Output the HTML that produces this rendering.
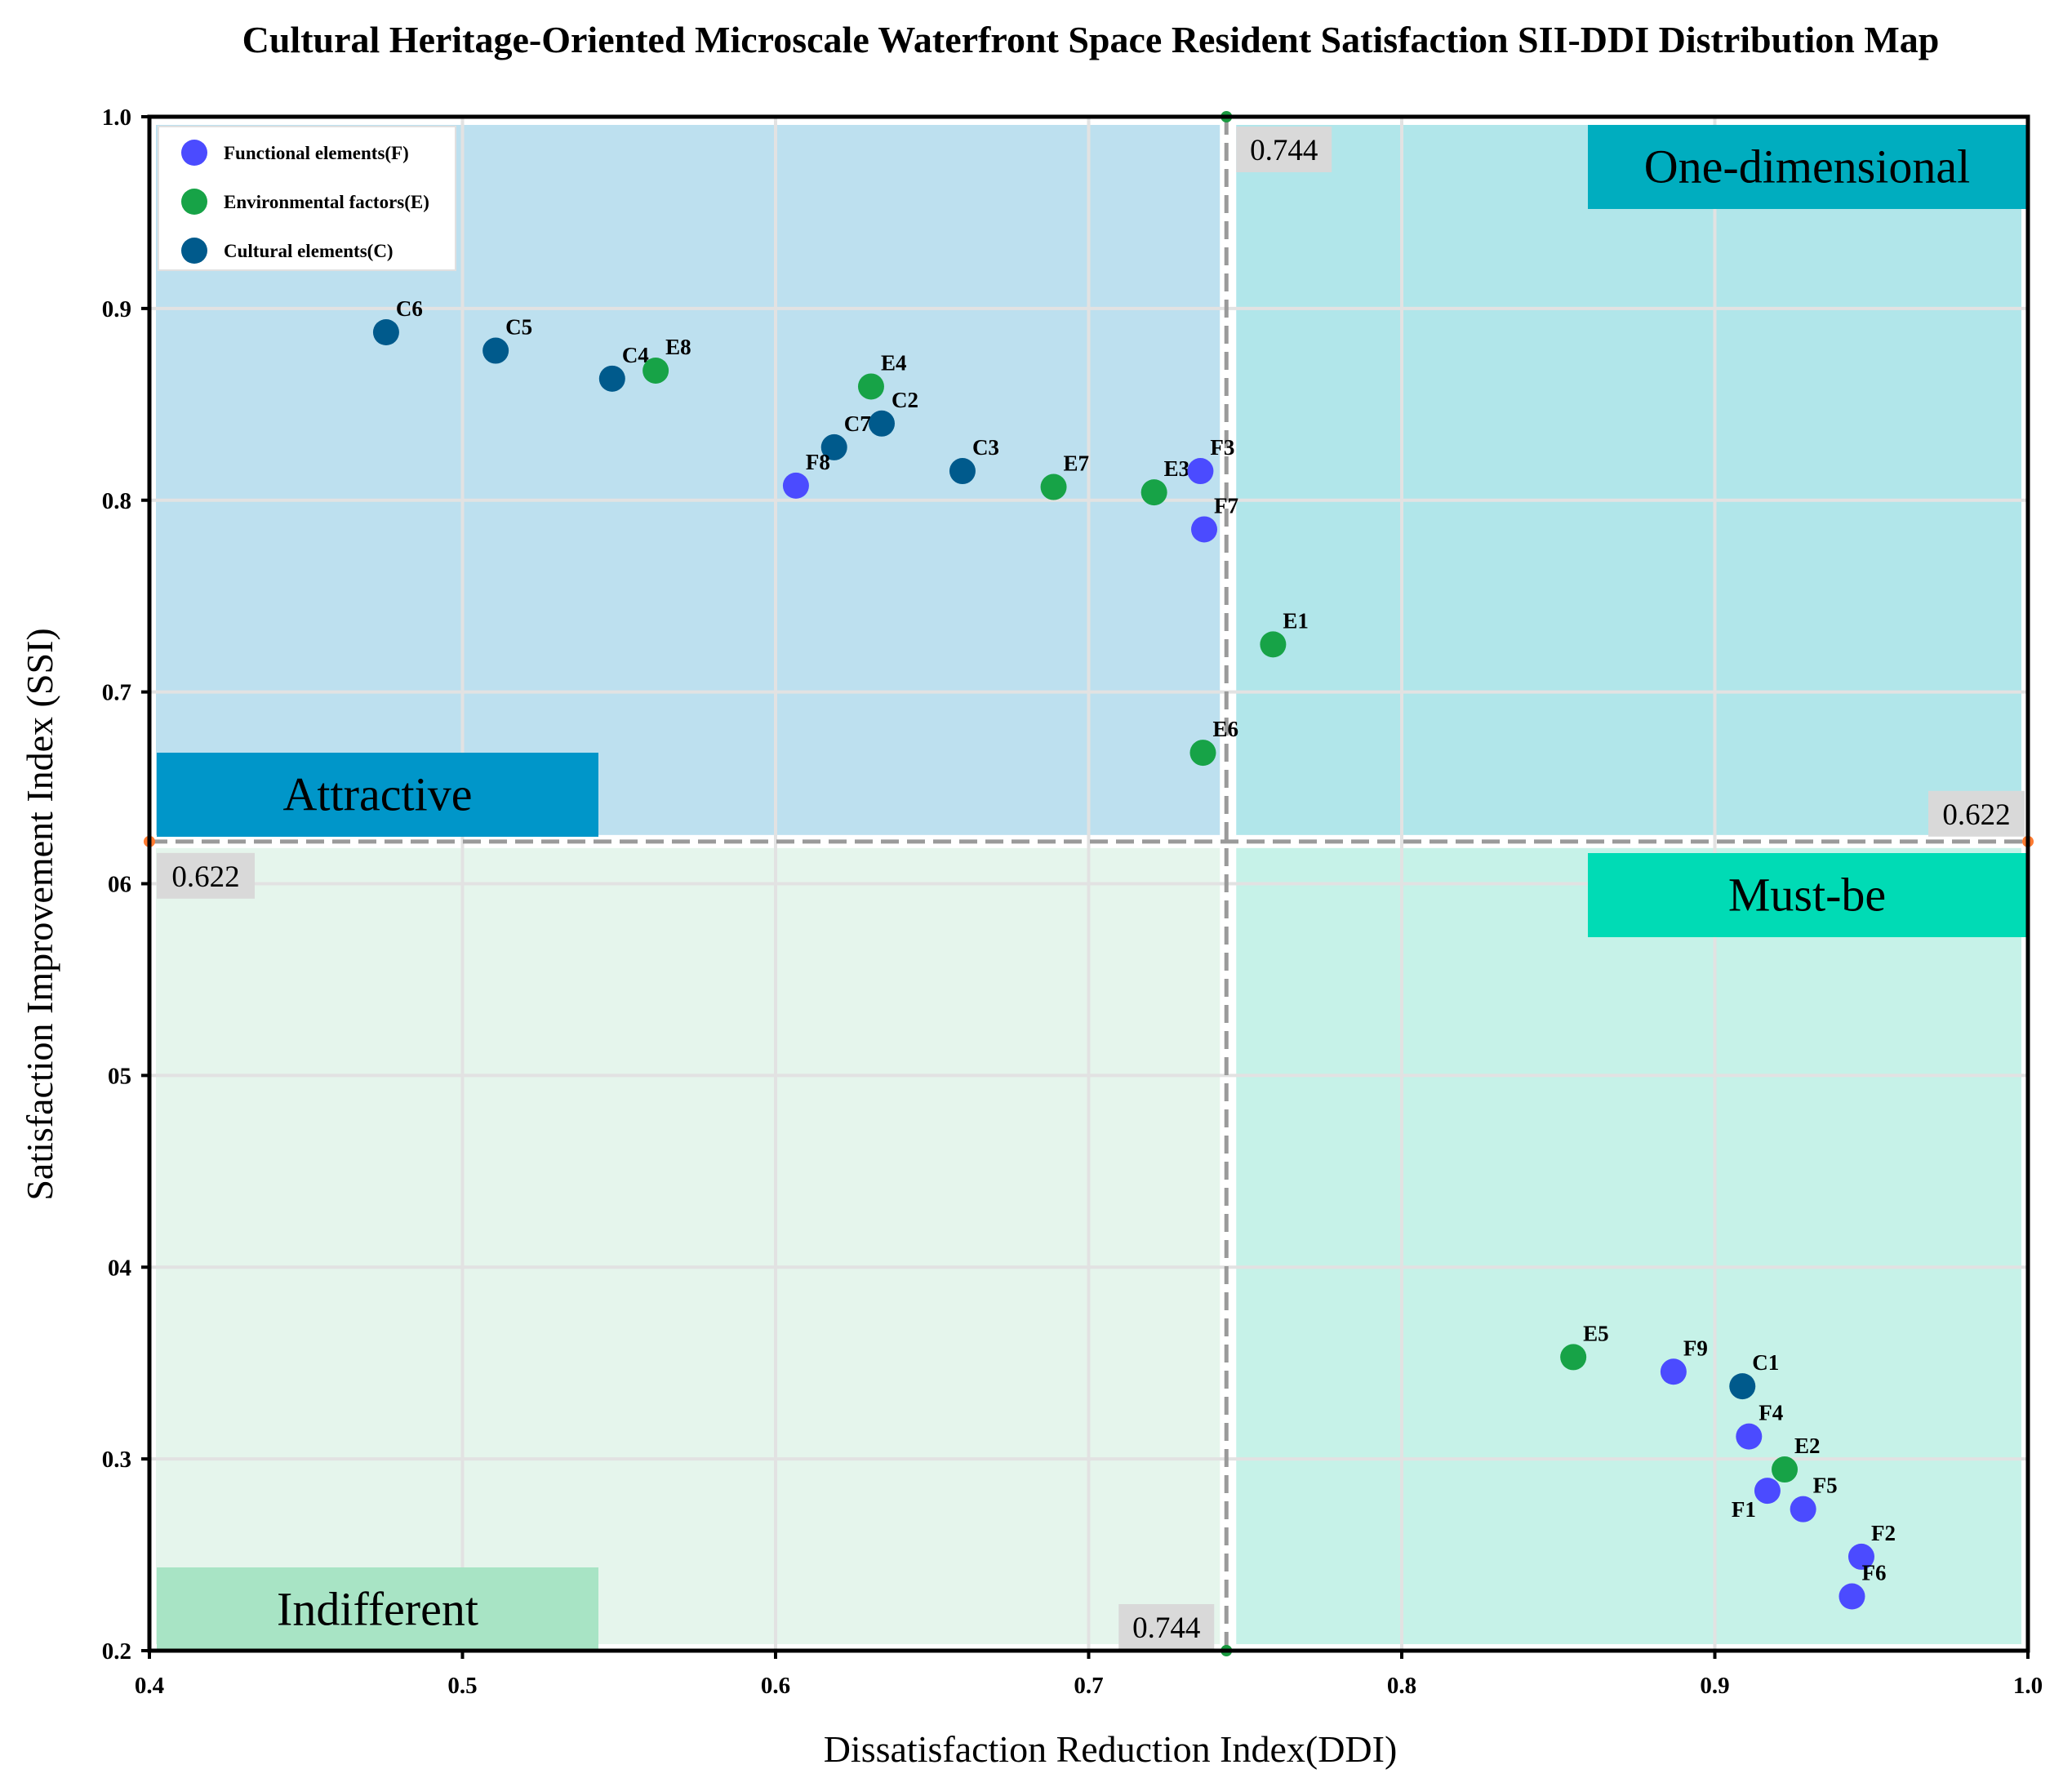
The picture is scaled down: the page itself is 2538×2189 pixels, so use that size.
<!DOCTYPE html>
<html><head><meta charset="utf-8">
<style>
html,body{margin:0;padding:0;background:#fff;}
svg{display:block;font-family:"Liberation Serif",serif;}
</style></head>
<body>
<svg id="chart" width="2538" height="2189" viewBox="0 0 2538 2189" xmlns="http://www.w3.org/2000/svg">
<text x="1336" y="64" text-anchor="middle" font-size="46" font-weight="bold">Cultural Heritage-Oriented Microscale Waterfront Space Resident Satisfaction SII-DDI Distribution Map</text>
<g id="bg"></g><g id="grid"></g><g id="thr"></g><g id="boxes"></g><g id="marks"></g><g id="axes"></g><g id="legend"></g>
<text x="1360" y="2158" text-anchor="middle" font-size="46">Dissatisfaction Reduction Index(DDI)</text>
<text transform="translate(64,1120) rotate(-90)" text-anchor="middle" font-size="46">Satisfaction Improvement Index (SSI)</text>
</svg>
<script>
const xTicks=[0.4,0.5,0.6,0.7,0.8,0.9,1.0];
const xTickLabels=["0.4","0.5","0.6","0.7","0.8","0.9","1.0"];
const yTicks=[0.2,0.3,0.4,0.5,0.6,0.7,0.8,0.9,1.0];
const yTickLabels=["0.2","0.3","04","05","06","0.7","0.8","0.9","1.0"];
const thresholdX=0.744;
const thresholdY=0.622;
const pointNames=["C6","C5","C4","E8","E4","C2","C7","F8","C3","E7","E3","F3","F7","E1","E6","E5","F9","C1","F4","E2","F1","F5","F2","F6"];
const ddiValues=[0.4756,0.5106,0.5478,0.5617,0.6305,0.6339,0.6187,0.6065,0.6597,0.6888,0.7209,0.7357,0.7369,0.7589,0.7365,0.8548,0.8868,0.9088,0.9109,0.9223,0.9168,0.9282,0.9468,0.9438];
const ssiValues=[0.8876,0.878,0.8634,0.8676,0.8593,0.84,0.8276,0.8076,0.8152,0.8069,0.8041,0.8152,0.7848,0.7248,0.6683,0.3531,0.3455,0.3379,0.3117,0.2945,0.2834,0.2738,0.249,0.2283];
const groupNames=["Functional elements(F)","Environmental factors(E)","Cultural elements(C)"];
const groupColors={F:"#4b4bff",E:"#17a347",C:"#005a8c"};

const L=183,R=2484,T=143,B=2022;
const X=v=>L+(v-0.4)/0.6*(R-L);
const Y=v=>B-(v-0.2)/0.8*(B-T);
const NS="http://www.w3.org/2000/svg";
function mk(parent,tag,attrs,text){const e=document.createElementNS(NS,tag);for(const k in attrs)e.setAttribute(k,attrs[k]);if(text!==undefined)e.textContent=text;document.getElementById(parent).appendChild(e);return e;}

const tx=X(thresholdX),ty=Y(thresholdY),g=8;
let q;
q=mk('bg','rect',{x:L+8,y:T+10,width:tx-g-(L+8),height:ty-g-(T+10),fill:"#bde0ef"});

q=mk('bg','rect',{x:tx+g+4,y:T+10,width:R-8-(tx+g+4),height:ty-g-(T+10),fill:"#b1e6ea"});

q=mk('bg','rect',{x:L+8,y:ty+g,width:tx-g-(L+8),height:B-8-(ty+g),fill:"#e5f5ec"});

q=mk('bg','rect',{x:tx+g+4,y:ty+g,width:R-8-(tx+g+4),height:B-8-(ty+g),fill:"#c6f2e8"});


xTicks.forEach(v=>{const l=mk('grid','line',{x1:X(v),x2:X(v),y1:T,y2:B,stroke:"#e2e2e2","stroke-width":4});
});
yTicks.forEach(v=>{const l=mk('grid','line',{x1:L,x2:R,y1:Y(v),y2:Y(v),stroke:"#e2e2e2","stroke-width":4});
});

let t=mk('thr','line',{x1:tx,x2:tx,y1:T,y2:B,stroke:"#9a9a9a","stroke-width":5,"stroke-dasharray":"22,10"});

t=mk('thr','line',{x1:L,x2:R,y1:ty,y2:ty,stroke:"#9a9a9a","stroke-width":5,"stroke-dasharray":"22,10"});

[[tx,T,"#1a9a40"],[tx,B,"#1a9a40"],[L,ty,"#ff7a30"],[R,ty,"#ff7a30"]].forEach(p=>{const c=mk('thr','circle',{cx:p[0],cy:p[1],r:7,fill:p[2]});
});

function qbox(name,x,y,w,h,fill,label){const r=mk('boxes','rect',{x:x,y:y,width:w,height:h,fill:fill});

const s=mk('boxes','text',{x:x+w/2,y:y+h/2+19,"text-anchor":"middle","font-size":58},label);
}
qbox('attractive',192,922,541,103,"#0096c9","Attractive");
qbox('one-dimensional',1945,153,541-4,103,"#00adbf","One-dimensional");
qbox('must-be',1945,1045,541-4,103,"#00dbb5","Must-be");
qbox('indifferent',192,1920,541,103,"#a8e4c5","Indifferent");
function vbox(name,x,y,w,h,label){const r=mk('boxes','rect',{x:x,y:y,width:w,height:h,fill:"#d9d9d9"});

const s=mk('boxes','text',{x:x+w/2,y:y+h/2+13,"text-anchor":"middle","font-size":37},label);
}
vbox('ddi-threshold-top-label',tx+12,155,117,56,String(thresholdX));
vbox('ddi-threshold-bottom-label',tx-132,1965,117,56,String(thresholdX));
vbox('ssi-threshold-left-label',192,ty+14,120,56,String(thresholdY));
vbox('ssi-threshold-right-label',2362,ty-62,118,56,String(thresholdY));

pointNames.forEach((n,i)=>{const cx=X(ddiValues[i]),cy=Y(ssiValues[i]);
const c=mk('marks','circle',{cx:cx,cy:cy,r:16,fill:groupColors[n[0]]});


let lx=cx+12,ly=cy-20,anc="start";
if(n==="F1"){lx=cx-14;ly=cy+32;anc="end";}
const s=mk('marks','text',{x:lx,y:ly,"font-size":27,"font-weight":"bold","text-anchor":anc},n);

});

const f=mk('axes','rect',{x:L,y:T,width:R-L,height:B-T,fill:"none",stroke:"#000","stroke-width":5});

xTicks.forEach((v,i)=>{const l=mk('axes','line',{x1:X(v),x2:X(v),y1:B,y2:B+10,stroke:"#000","stroke-width":4});

const s=mk('axes','text',{x:X(v),y:B+52,"text-anchor":"middle","font-size":29,"font-weight":"bold"},xTickLabels[i]);
});
yTicks.forEach((v,i)=>{const l=mk('axes','line',{x1:L-10,x2:L,y1:Y(v),y2:Y(v),stroke:"#000","stroke-width":4});

const s=mk('axes','text',{x:L-22,y:Y(v)+10,"text-anchor":"end","font-size":29,"font-weight":"bold"},yTickLabels[i]);
});

const lg=mk('legend','rect',{x:194,y:155,width:364,height:176,fill:"#fff",stroke:"#e0e0e0","stroke-width":2});

["F","E","C"].forEach((k,i)=>{const yy=187+i*60;
const c=mk('legend','circle',{cx:238,cy:yy,r:16,fill:groupColors[k]});

const s=mk('legend','text',{x:274,y:yy+8,"font-size":23,"font-weight":"bold"},groupNames[i]);
});
</script>
</body></html>
